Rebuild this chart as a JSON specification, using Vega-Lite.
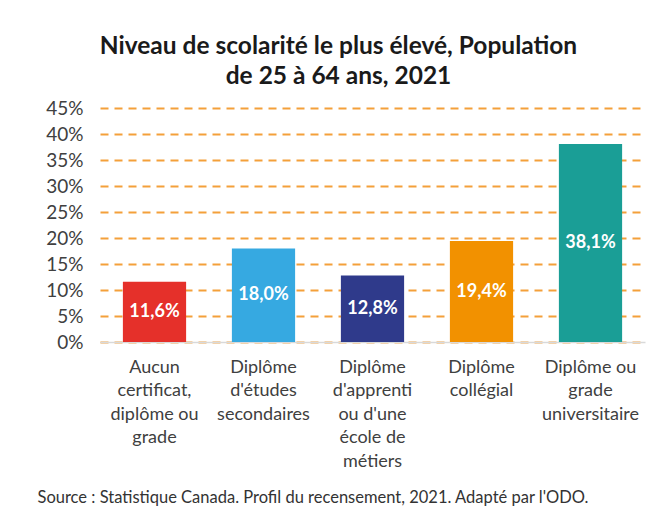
{
  "$schema": "https://vega.github.io/schema/vega-lite/v6.json",
  "width": 545,
  "height": 234,
  "autosize": {"type": "none"},
  "padding": {"left": 100, "top": 108, "right": 18, "bottom": 175},
  "background": "white",
  "config": {
    "locale": {"number": {"decimal": ",", "thousands": " ", "grouping": [3], "currency": ["", " $"]}},
    "view": {"stroke": null},
    "font": "Lato"
  },
  "title": {
    "text": ["Niveau de scolarité le plus élevé, Population", "de 25 à 64 ans, 2021"],
    "font": "Lato",
    "fontSize": 24.5,
    "fontWeight": "bold",
    "lineHeight": 30,
    "color": "#1a1a1a",
    "anchor": "middle",
    "frame": "group",
    "dx": -34,
    "offset": 10
  },
  "data": {
    "values": [
      {"cat": "Aucun|certificat,|diplôme ou|grade", "value": 0.116},
      {"cat": "Diplôme|d'études|secondaires", "value": 0.18},
      {"cat": "Diplôme|d'apprenti|ou d'une|école de|métiers", "value": 0.128},
      {"cat": "Diplôme|collégial", "value": 0.194},
      {"cat": "Diplôme ou|grade|universitaire", "value": 0.381}
    ]
  },
  "encoding": {
    "x": {
      "field": "cat",
      "type": "nominal",
      "sort": null,
      "scale": {"paddingInner": 0.42, "paddingOuter": 0.21},
      "axis": {
        "labelAngle": 0,
        "labelExpr": "split(datum.label, '|')",
        "labelFont": "Lato",
        "labelFontSize": 18,
        "labelColor": "#404040",
        "labelLineHeight": 23.5,
        "labelBaseline": "top",
        "labelPadding": 16,
        "labelLimit": 200,
        "ticks": false,
        "domainColor": "#d9d9d9",
        "domainWidth": 1.5,
        "title": "Source : Statistique Canada. Profil du recensement, 2021. Adapté par l'ODO.",
        "titleFont": "Lato",
        "titleFontSize": 16.5,
        "titleFontWeight": "normal",
        "titleColor": "#333333",
        "titleX": -63,
        "titleY": 155,
        "titleAlign": "left",
        "titleAnchor": "start",
        "titleBaseline": "middle"
      }
    },
    "y": {
      "field": "value",
      "type": "quantitative",
      "scale": {"domain": [0, 0.45], "nice": false},
      "axis": {
        "values": [0, 0.05, 0.1, 0.15, 0.2, 0.25, 0.3, 0.35, 0.4, 0.45],
        "format": ".0%",
        "title": null,
        "domain": false,
        "ticks": false,
        "labelOverlap": false,
        "labelFont": "Lato",
        "labelFontSize": 19,
        "labelColor": "#404040",
        "labelPadding": 17,
        "gridColor": "#f4a03a",
        "gridDash": [8, 6],
        "gridWidth": 2.2
      }
    }
  },
  "layer": [
    {
      "mark": {"type": "bar"},
      "encoding": {
        "color": {
          "field": "cat",
          "type": "nominal",
          "sort": null,
          "legend": null,
          "scale": {"range": ["#e5302a", "#36a9e1", "#2f3a8b", "#f29100", "#1a9e96"]}
        }
      }
    },
    {
      "transform": [{"calculate": "datum.value / 2", "as": "mid"}],
      "mark": {"type": "text", "color": "white", "fontWeight": "bold", "fontSize": 18, "font": "Lato", "baseline": "middle"},
      "encoding": {
        "y": {"field": "mid", "type": "quantitative"},
        "text": {"field": "value", "type": "quantitative", "format": ".1%"}
      }
    }
  ]
}
